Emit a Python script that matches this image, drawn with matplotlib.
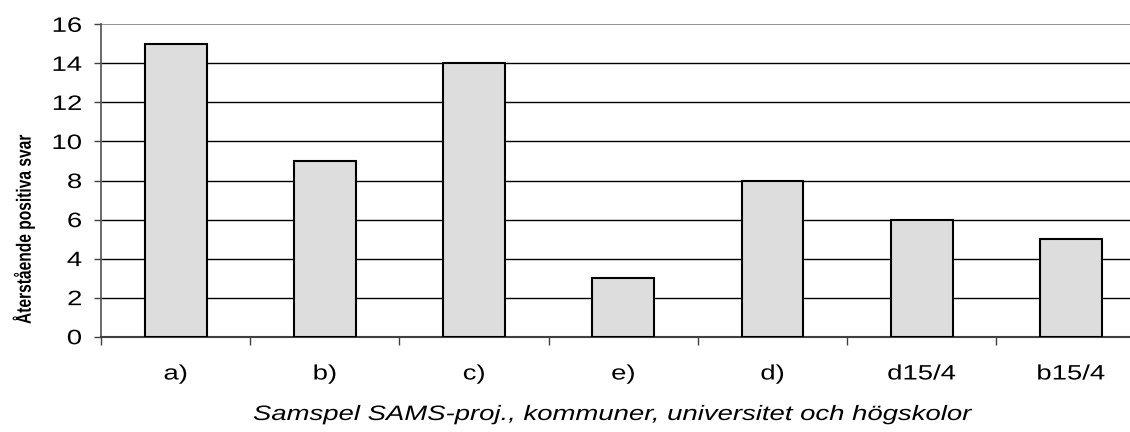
import numpy as np
import matplotlib.pyplot as plt
from matplotlib import patheffects
from matplotlib.transforms import Affine2D

categories = ["a)", "b)", "c)", "e)", "d)", "d15/4", "b15/4"]
values = [15, 9, 14, 3, 8, 6, 5]

plt.rcParams['font.family'] = ['Liberation Sans', 'DejaVu Sans']


# the original text is stretched sideways, so widen the glyphs in display x
class Stretch(patheffects.AbstractPathEffect):
    def __init__(self, sx=1.32, anchor='center'):
        super().__init__()
        self.sx = sx
        self.anchor = anchor

    def draw_path(self, renderer, gc, tpath, affine, rgbFace=None):
        ext = tpath.get_extents(affine)
        cx = ext.x1 if self.anchor == 'right' else (ext.x0 + ext.x1) / 2
        t = affine + Affine2D().translate(-cx, 0).scale(self.sx, 1).translate(cx, 0)
        renderer.draw_path(gc, tpath, t, rgbFace)


fig = plt.figure(figsize=(11.3, 4.32), dpi=100)
# plot area runs past the right edge, like the original crop
ax = fig.add_axes([101 / 1130, 0.2206, 1044.5 / 1130, 0.7231])

x = np.arange(len(categories))
ax.bar(x, values, width=0.415, color='#dddddd', edgecolor='black', linewidth=1.5, zorder=3)

ax.set_xlim(-0.5, len(categories) - 0.5)
ax.set_ylim(0, 16)
ax.set_yticks(np.arange(0, 17, 2))
for yv in np.arange(2, 16, 2):
    ax.axhline(yv, color='black', linewidth=1, zorder=1)
ax.axhline(16, color='#808080', linewidth=1.2, zorder=1)

# category labels centred, ticks on the boundaries
ax.set_xticks(np.arange(-0.5, len(categories), 1))
ax.set_xticklabels([])
ax.set_xticks(x, minor=True)
ax.set_xticklabels(categories, minor=True, fontsize=15)
ax.tick_params(axis='x', which='minor', length=0, pad=20)
ax.tick_params(axis='x', which='major', length=5.5, width=1, color='#404040')
ax.tick_params(axis='y', length=4.7, width=1, color='#404040', labelsize=15, pad=9)

for lab in ax.get_xticklabels(minor=True):
    lab.set_path_effects([Stretch()])
for lab in ax.get_yticklabels():
    lab.set_path_effects([Stretch(anchor='right')])

for side in ['top', 'right']:
    ax.spines[side].set_visible(False)
ax.spines['left'].set_color('#505050')
ax.spines['bottom'].set_color('#404040')
ax.spines['left'].set_linewidth(1.2)
ax.spines['bottom'].set_linewidth(1.5)

fig.text(23 / 1130, (432 - 229.5) / 432, "Återstående positiva svar", rotation=90,
         ha='center', va='center', fontsize=11.2, fontweight='bold',
         path_effects=[Stretch()])
fig.text(613 / 1130, 12 / 432, "Samspel SAMS-proj., kommuner, universitet och högskolor",
         ha='center', va='baseline', fontsize=15, style='italic',
         path_effects=[Stretch()])

fig.savefig("out.png", dpi=100)
